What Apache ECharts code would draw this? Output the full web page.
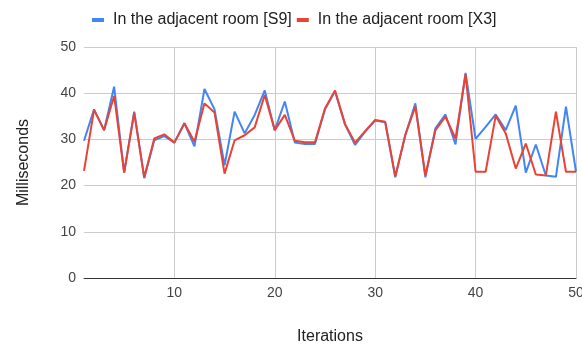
<!DOCTYPE html>
<html>
<head>
<meta charset="utf-8">
<script src="https://cdn.jsdelivr.net/npm/echarts@6/dist/echarts.min.js"></script>
<style>html,body{margin:0;padding:0;background:#fff}#c{width:582px;height:347px}</style>
</head>
<body>
<div id="c"></div>
<script>
var iterations = [];
for (var k = 1; k <= 50; k++) iterations.push(String(k));
var seriesNames = ['In the adjacent room [S9]', 'In the adjacent room [X3]'];
var s9 = [29.7,36.5,32,41.4,22.8,36,21.6,29.8,30.7,29.3,
          33.5,28.5,40.9,36.5,24.4,36,31.3,35.3,40.6,32,
          38.2,29.3,29,29,36.5,40.4,33.2,28.8,31.7,34.1,
          33.7,21.8,30.9,37.8,21.8,32.4,35.4,28.9,44.4,30.1,
          32.7,35.4,32,37.3,22.8,28.9,22.2,21.9,37.1,23];
var x3 = [23.2,36.4,32,39.4,22.8,35.8,21.8,30.2,31.1,29.3,
          33.5,29.5,37.8,35.8,22.6,29.8,30.9,32.6,39.6,32,
          35.3,29.7,29.4,29.4,36.7,40.6,33.3,29.3,31.8,34.2,
          33.8,22,31,37.1,22.2,32,34.9,30.2,44.1,23,
          23,35.1,31.3,23.7,29.1,22.4,22.2,36,23,23];
var yTicks = [0, 50, 10];

var font = 'Arial, "Liberation Sans", sans-serif';
var chart = echarts.init(document.getElementById('c'), null, {renderer: 'canvas'});
chart.setOption({
  animation: false,
  textStyle: {fontFamily: font},
  legend: {
    data: seriesNames,
    left: 92, top: 12, padding: 0,
    icon: 'rect', itemWidth: 12, itemHeight: 4, itemGap: 5,
    textStyle: {fontSize: 16, color: '#222', fontFamily: font, padding: [0, 0, 0, 4]}
  },
  grid: {left: 84, right: 6, top: 47, bottom: 69, containLabel: false, outerBoundsMode: 'none'},
  xAxis: {
    type: 'category',
    data: iterations,
    boundaryGap: false,
    name: 'Iterations',
    nameLocation: 'middle',
    nameGap: 51,
    nameTextStyle: {fontSize: 16, color: '#222', fontFamily: font},
    axisLine: {show: true, lineStyle: {color: '#333', width: 1}},
    axisTick: {show: false},
    axisLabel: {
      interval: function (i) { return (i + 1) % 10 === 0; },
      fontSize: 14, color: '#444', margin: 8, fontFamily: font
    },
    splitLine: {
      show: true,
      interval: function (i) { return (i + 1) % 10 === 0; },
      lineStyle: {color: '#ccc', width: 1}
    }
  },
  yAxis: {
    type: 'value',
    min: yTicks[0], max: yTicks[1], interval: yTicks[2],
    name: 'Milliseconds',
    nameLocation: 'middle',
    nameGap: 52,
    nameTextStyle: {fontSize: 16, color: '#222', fontFamily: font},
    axisLine: {show: false},
    axisTick: {show: false},
    axisLabel: {fontSize: 14, color: '#444', margin: 8, fontFamily: font, padding: [6, 0, 0, 0]},
    splitLine: {lineStyle: {color: '#ccc', width: 1}}
  },
  series: [
    {name: seriesNames[0], type: 'line', data: s9, showSymbol: false, symbol: 'none',
     lineStyle: {color: '#4285F4', width: 2}, itemStyle: {color: '#4285F4'}},
    {name: seriesNames[1], type: 'line', data: x3, showSymbol: false, symbol: 'none',
     lineStyle: {color: '#EA4335', width: 2}, itemStyle: {color: '#EA4335'}}
  ]
});
</script>
</body>
</html>
